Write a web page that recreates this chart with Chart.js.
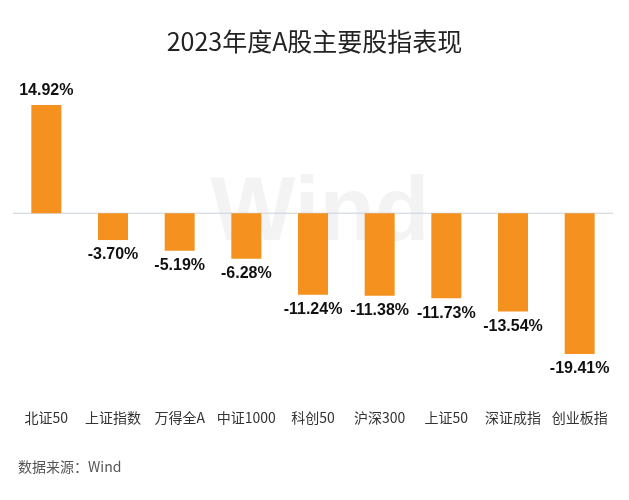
<!DOCTYPE html>
<html>
<head>
<meta charset="utf-8">
<script src="https://cdn.jsdelivr.net/npm/chart.js@4"></script>
<style>
  body { margin: 0; background: #fff; font-family: "Noto Sans CJK SC", "Noto Sans", sans-serif; }
  #wrap { position: relative; width: 629px; height: 500px; }
  #title { position: absolute; top: 22px; left: 0; width: 629px; text-align: center; font-size: 25px; color: #222; }
  #source { position: absolute; left: 18px; top: 456px; font-size: 14px; color: #555; }
</style>
</head>
<body>
<div id="wrap">
  <canvas id="chart" width="629" height="500"></canvas>
  <div id="title">2023年度A股主要股指表现</div>
  <div id="source">数据来源：Wind</div>
</div>
<script>
// --- DATI ---
const categories = ['北证50', '上证指数', '万得全A', '中证1000', '科创50', '沪深300', '上证50', '深证成指', '创业板指'];
const returns = [14.92, -3.70, -5.19, -6.28, -11.24, -11.38, -11.73, -13.54, -19.41];

// linea dello zero, watermark, etichette dei valori e delle categorie
const extras = {
  id: 'extras',
  beforeDatasetsDraw(chart) {
    const { ctx, chartArea, scales } = chart;
    const y0 = scales.y.getPixelForValue(0);
    ctx.save();
    ctx.fillStyle = 'rgba(200,200,200,0.22)';
    ctx.font = 'bold 90px "Liberation Sans", sans-serif';
    ctx.textAlign = 'center';
    ctx.textBaseline = 'middle';
    ctx.fillText('Wind', 320, 215);
    ctx.strokeStyle = '#c8d0dc';
    ctx.lineWidth = 1;
    ctx.beginPath();
    ctx.moveTo(chartArea.left, y0);
    ctx.lineTo(chartArea.right, y0);
    ctx.stroke();
    ctx.restore();
  },
  afterDatasetsDraw(chart) {
    const { ctx, scales } = chart;
    const meta = chart.getDatasetMeta(0);
    ctx.save();
    ctx.fillStyle = '#111';
    ctx.font = 'bold 16px "Liberation Sans", Arial, sans-serif';
    ctx.textAlign = 'center';
    meta.data.forEach((bar, i) => {
      const v = returns[i];
      const txt = v.toFixed(2) + '%';
      if (v >= 0) {
        ctx.textBaseline = 'bottom';
        ctx.fillText(txt, bar.x, bar.y - 6);
      } else {
        ctx.textBaseline = 'top';
        ctx.fillText(txt, bar.x, bar.y + 7);
      }
    });
    ctx.fillStyle = '#333';
    ctx.font = '14px "Noto Sans CJK SC", sans-serif';
    ctx.textBaseline = 'middle';
    categories.forEach((c, i) => {
      ctx.fillText(c, scales.x.getPixelForValue(i), 418);
    });
    ctx.restore();
  }
};

new Chart(document.getElementById('chart'), {
  type: 'bar',
  data: {
    labels: categories,
    datasets: [{
      data: returns,
      backgroundColor: '#F5911E',
      barPercentage: 0.45,
      categoryPercentage: 1
    }]
  },
  options: {
    responsive: false,
    animation: false,
    layout: { padding: { top: 105, left: 13, right: 16, bottom: 146 } },
    plugins: { legend: { display: false }, tooltip: { enabled: false } },
    scales: {
      x: { display: false },
      y: { display: false, min: -19.41, max: 14.92 }
    }
  },
  plugins: [extras]
});
</script>
</body>
</html>
